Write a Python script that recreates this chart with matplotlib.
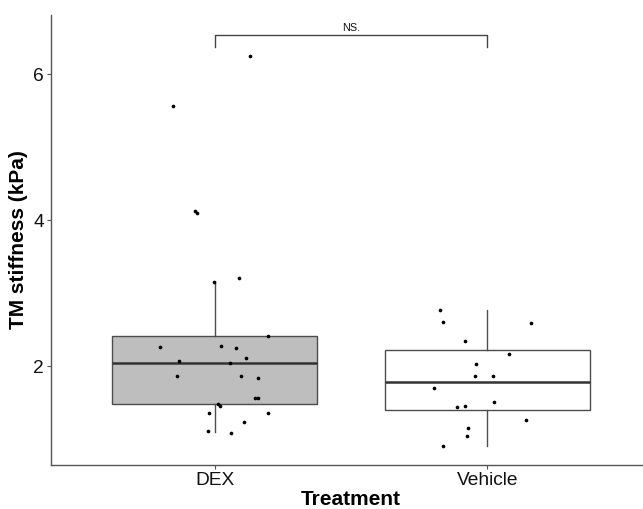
import matplotlib
matplotlib.use("Agg")
import matplotlib.pyplot as plt
import numpy as np

plt.rcParams['font.family'] = ['Liberation Sans', 'DejaVu Sans']

categories = ["DEX", "Vehicle"]

dex_values = [6.25, 5.562, 4.123, 4.10, 3.155, 3.201, 2.415, 2.256, 2.274, 2.242,
              2.11, 2.073, 2.041, 1.859, 1.859, 1.831, 1.557, 1.557, 1.479, 1.448,
              1.361, 1.356, 1.237, 1.11, 1.087]
dex_jitter = [0.130, -0.154, -0.071, -0.063, -0.001, 0.089, 0.197, -0.199, 0.022, 0.077,
              0.114, -0.130, 0.058, -0.139, 0.095, 0.159, 0.147, 0.158, 0.014, 0.021,
              -0.022, 0.197, 0.109, -0.023, 0.060]

veh_values = [2.763, 2.603, 2.589, 2.347, 2.169, 2.027, 1.863, 1.859, 1.694, 1.434,
              1.448, 1.511, 1.26, 1.155, 1.037, 0.90]
veh_jitter = [-0.173, -0.161, 0.160, -0.082, 0.078, -0.042, -0.045, 0.021, -0.196, -0.110,
              -0.083, 0.025, 0.142, -0.072, -0.075, -0.162]

# box statistics
box_q1 = [1.475, 1.393]
box_med = [2.045, 1.777]
box_q3 = [2.415, 2.215]
box_whislo = [1.09, 0.904]
box_whishi = [3.155, 2.763]
box_fill = ["#BEBEBE", "#FFFFFF"]

sig_label = "NS."
sig_y = 6.54

W, H = 643, 509
fig = plt.figure(figsize=(W / 100, H / 100), dpi=100)
ax = fig.add_axes([51 / W, 44 / H, 600 / W, 450 / H])

positions = np.arange(1, len(categories) + 1)
stats = []
for i in range(len(categories)):
    stats.append(dict(med=box_med[i], q1=box_q1[i], q3=box_q3[i],
                      whislo=box_whislo[i], whishi=box_whishi[i], fliers=[]))
edge = "#4D4D4D"
bp = ax.bxp(stats, positions=positions, widths=0.75, patch_artist=True,
            showfliers=False, showcaps=False,
            boxprops=dict(edgecolor=edge, linewidth=1.0),
            whiskerprops=dict(color=edge, linewidth=1.0),
            medianprops=dict(color="#333333", linewidth=1.8))
for patch, c in zip(bp['boxes'], box_fill):
    patch.set_facecolor(c)

ax.scatter(positions[0] + np.array(dex_jitter), dex_values, s=7, color="black", zorder=3, linewidths=0)
ax.scatter(positions[1] + np.array(veh_jitter), veh_values, s=7, color="black", zorder=3, linewidths=0)

# significance bracket
ax.plot([positions[0], positions[0], positions[1], positions[1]],
        [sig_y - 0.165, sig_y, sig_y, sig_y - 0.165], color="#444444", linewidth=1.0)
ax.text((positions[0] + positions[1]) / 2, sig_y + 0.03, sig_label, ha="center", va="bottom",
        fontsize=7.8, color="#111111")

ax.set_xlim(0.4, 2.6)
ax.set_ylim(0.644, 6.81)
ax.set_xticks(positions)
ax.set_xticklabels(categories)
ax.set_yticks([2, 4, 6])
ax.set_yticklabels(["2", "4", "6"])

for side in ["top", "right"]:
    ax.spines[side].set_visible(False)
for side in ["left", "bottom"]:
    ax.spines[side].set_color("#555555")
    ax.spines[side].set_linewidth(1.0)
ax.tick_params(axis="both", colors="#555555", length=3, width=0.8, labelsize=13.8,
               labelcolor="#111111", pad=2)

ax.set_xlabel("Treatment", fontsize=15, fontweight="bold", labelpad=1)
ax.set_ylabel("TM stiffness (kPa)", fontsize=15, fontweight="bold", labelpad=4)

fig.savefig("out.png", dpi=100)
